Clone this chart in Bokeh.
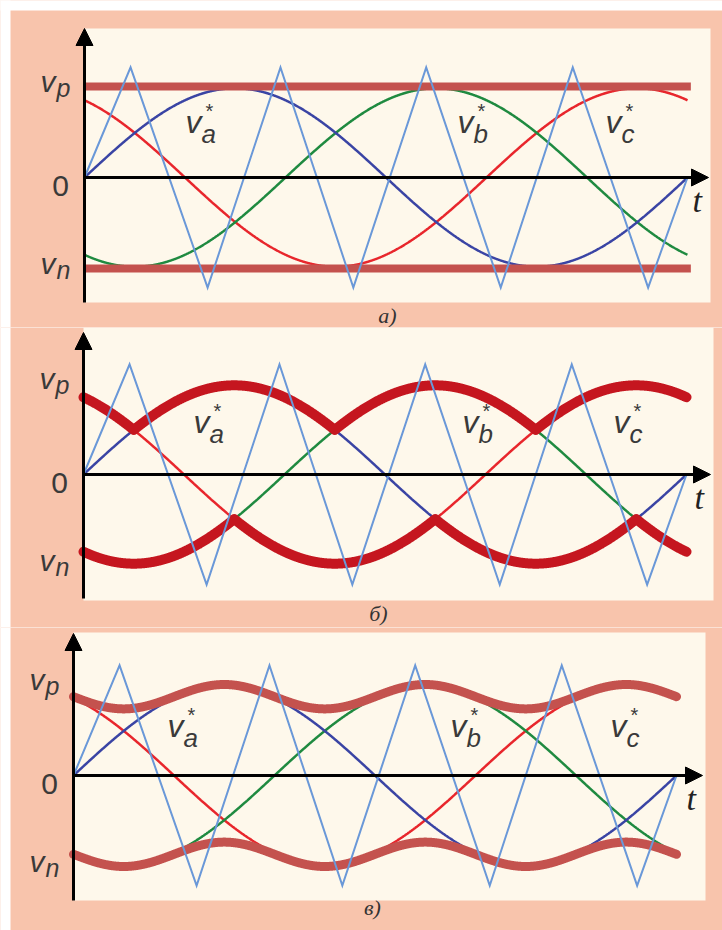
import numpy as np
from bokeh.plotting import figure
from bokeh.layouts import column
from bokeh.models import Range1d, Arrow, NormalHead
from bokeh.core.properties import value
from bokeh.embed import file_html
from bokeh.resources import INLINE

# ---- data -------------------------------------------------------------
# three-phase references v_a*, v_b*, v_c* over one fundamental period
PHASE_NAMES = ["a", "b", "c"]
PHASE_SHIFT_DEG = [0.0, -120.0, 120.0]
PHASE_AMPLITUDE = 0.98

# triangular carrier: vertex angles (deg) and levels
CARRIER_DEG = [0, 27.5, 73.5, 117, 160.5, 204, 248.5, 291.5, 336.5, 360]
CARRIER_LEVEL = [0, 1.21, -1.21, 1.21, -1.21, 1.21, -1.21, 1.21, -1.21, 0]

# a) fixed rails v_p, v_n
RAIL_LEVELS = [1.0, -1.0]
# c) rails: mean level and third-harmonic ripple
RAIL_C_MEAN = 0.866
RAIL_C_RIPPLE = 0.134

RAIL_NAMES = ["p", "n"]
PANEL_TAGS = ["а)", "б)", "в)"]

# ---- style ------------------------------------------------------------
SALMON = "#F8C4AC"
CREAM = "#FEF8EB"
CARRIER_COLOR = "#6A98D8"
PHASE_COLORS = {"a": "#3A44A4", "b": "#1F8A40", "c": "#E8262C"}
RAIL_COLORS = ["#C4524E", "#C5161F", "#C4524E"]
RAIL_WIDTHS = [8, 10, 9]
TEXT_COLOR = "#3A3A3A"
SANS = value("Liberation Sans")
SERIF = value("Liberation Serif")

PXDEG = 1.675   # pixels per electrical degree
PXU = 91.0      # pixels per unit of voltage
LIFT = -12      # vertical nudge applied to baseline-anchored labels

# page layout of each panel (pixels, local to its figure)
PANELS = [
    dict(h=327, white_top=10, x0=84, zero=177, cream=(84, 710, 28, 302),
         ytip=28, ybot=302, xtip=708, tag=(387, 315),
         marks=[(60.3, 0.45), (222.7, 0.45), (311.0, 0.45)]),
    dict(h=300, white_top=0, x0=83, zero=147, cream=(83, 713, 0, 273),
         ytip=5, ybot=271, xtip=710, tag=(378, 286),
         marks=[(65.7, 0.41), (226.3, 0.41), (316.4, 0.41)]),
    dict(h=303, white_top=0, x0=73, zero=148, cream=(73, 705, 5, 273),
         ytip=6, ybot=273, xtip=702, tag=(372, 280),
         marks=[(56.1, 0.38), (225.1, 0.38), (320.6, 0.38)]),
]

theta = np.linspace(0.0, 360.0, 1441)
phases = {
    n: PHASE_AMPLITUDE * np.sin(np.radians(theta + s))
    for n, s in zip(PHASE_NAMES, PHASE_SHIFT_DEG)
}
stack = np.vstack([phases[n] for n in PHASE_NAMES])
upper_b = stack.max(axis=0)
lower_b = stack.min(axis=0)
ripple = RAIL_C_RIPPLE * np.sin(np.radians(3 * theta))
upper_c = RAIL_C_MEAN - ripple
lower_c = -RAIL_C_MEAN - ripple


def make_panel(i):
    sp = PANELS[i]
    H, x0, z = sp["h"], sp["x0"], sp["zero"]

    def X(px):
        return (px - x0) / PXDEG

    def Y(py):
        return (z - py) / PXU

    p = figure(width=722, height=H, output_backend="svg", toolbar_location=None,
               title=None,
               x_range=Range1d(X(0), X(722)), y_range=Range1d(Y(H), Y(0)),
               min_border=0, x_axis_location=None, y_axis_location=None,
               background_fill_color=SALMON, border_fill_color=SALMON,
               outline_line_color=None)
    p.grid.grid_line_color = None

    # white page margin at the left (and at the top of the first panel)
    p.quad(left=X(-5), right=X(10), top=Y(-5), bottom=Y(H + 5),
           color="white", line_color=None)
    if sp["white_top"]:
        p.quad(left=X(-5), right=X(727), top=Y(-5), bottom=Y(sp["white_top"]),
               color="white", line_color=None)

    # plotting field
    cx0, cx1, cy0, cy1 = sp["cream"]
    p.quad(left=X(cx0), right=X(cx1), top=Y(cy0), bottom=Y(cy1),
           color=CREAM, line_color=None)

    # phase references
    for n in ["c", "b", "a"]:
        p.line(theta, phases[n], line_color=PHASE_COLORS[n], line_width=2.5)

    # rails
    rc, rw = RAIL_COLORS[i], RAIL_WIDTHS[i]
    if i == 0:
        for lv in RAIL_LEVELS:
            p.line([0, 362], [lv, lv], line_color=rc, line_width=rw)
    elif i == 1:
        for curve in (upper_b, lower_b):
            p.line(theta, curve, line_color=rc, line_width=rw,
                   line_cap="round", line_join="round")
    else:
        for curve in (upper_c, lower_c):
            p.line(theta, curve, line_color=rc, line_width=rw,
                   line_cap="round", line_join="round")

    # carrier
    p.line(CARRIER_DEG, CARRIER_LEVEL, line_color=CARRIER_COLOR, line_width=2,
           line_join="miter")

    # axes with arrow heads
    p.add_layout(Arrow(end=NormalHead(size=17, fill_color="black", line_color="black"),
                       x_start=0, y_start=Y(sp["ybot"]), x_end=0, y_end=Y(sp["ytip"]),
                       line_width=3, line_color="black"))
    p.add_layout(Arrow(end=NormalHead(size=17, fill_color="black", line_color="black"),
                       x_start=0, y_start=0, x_end=X(sp["xtip"]), y_end=0,
                       line_width=3, line_color="black"))

    # rail labels v_p / v_n and the zero mark
    p.text(x=[0, 0], y=RAIL_LEVELS, text=["v", "v"], x_offset=-44, y_offset=7 + LIFT,
           text_font=SANS, text_font_style="italic", text_font_size="30px",
           text_color=TEXT_COLOR, text_baseline="alphabetic", text_align="left")
    p.text(x=[0, 0], y=RAIL_LEVELS, text=RAIL_NAMES, x_offset=-28, y_offset=13 + LIFT,
           text_font=SANS, text_font_style="italic", text_font_size="25px",
           text_color=TEXT_COLOR, text_baseline="alphabetic", text_align="left")
    p.text(x=[0], y=[0], text=["0"], x_offset=-24, y_offset=20 + LIFT,
           text_font=SANS, text_font_size="30px", text_color=TEXT_COLOR,
           text_baseline="alphabetic", text_align="center")
    p.text(x=[X(sp["xtip"])], y=[0], text=["t"], x_offset=-16, y_offset=35 + LIFT,
           text_font=SERIF, text_font_style="italic", text_font_size="34px",
           text_color="#222222", text_baseline="alphabetic", text_align="left")

    # phase reference names v_a*, v_b*, v_c*
    mx = [m[0] for m in sp["marks"]]
    my = [m[1] for m in sp["marks"]]
    p.text(x=mx, y=my, text=["v"] * 3, y_offset=LIFT - 3,
           text_font=SANS, text_font_style="italic", text_font_size="32px",
           text_color=TEXT_COLOR, text_baseline="alphabetic", text_align="left")
    p.text(x=mx, y=my, text=PHASE_NAMES, x_offset=16, y_offset=9 + LIFT,
           text_font=SANS, text_font_style="italic", text_font_size="26px",
           text_color=TEXT_COLOR, text_baseline="alphabetic", text_align="left")
    p.text(x=mx, y=my, text=["*"] * 3, x_offset=20, y_offset=-14 + LIFT,
           text_font=SANS, text_font_size="20px",
           text_color=TEXT_COLOR, text_baseline="alphabetic", text_align="left")

    # panel tag
    tx, ty = sp["tag"]
    p.text(x=[X(tx)], y=[Y(ty)], text=[PANEL_TAGS[i]],
           text_font=SERIF, text_font_style="italic", text_font_size="22px",
           text_color="#333333", text_baseline="middle", text_align="center")
    return p


page = column(*[make_panel(i) for i in range(3)], spacing=0)
html = file_html(page, INLINE)
# page backdrop: white margin strip on the left, salmon behind the panels
html = html.replace(
    "<body>",
    '<body style="background: linear-gradient(to right, white 10px, %s 10px);">' % SALMON,
    1,
)
open("out.html", "w").write(html)
